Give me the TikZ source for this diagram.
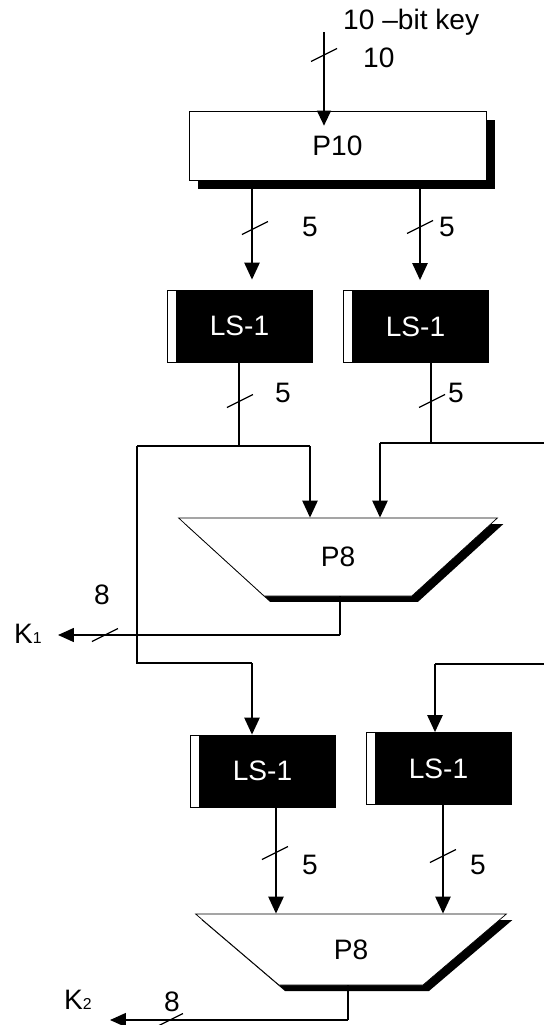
\documentclass[tikz,border=0pt]{standalone}
\usepackage{fontspec}
\setmainfont{Liberation Sans}
\usetikzlibrary{arrows.meta,shapes.geometric,shadows}

\newcommand{\ksub}[1]{{\fontsize{9}{9}\selectfont #1}}

\begin{document}
\begin{tikzpicture}[x=0.02cm,y=-0.02cm,font=\fontsize{16}{18}\selectfont,
  sig/.style={line width=1.4pt,-{Triangle[width=0.3cm,length=0.34cm]}},
  feed/.style={line width=0.7pt,-{Triangle[width=0.28cm,length=0.3cm]}},
  outarrow/.style={line width=0.9pt,-{Triangle[width=0.28cm,length=0.32cm]}},
  wire/.style={line width=0.9pt},
  bus/.style={line width=0.7pt},
  pbox/.style={draw,fill=white,inner sep=0pt,minimum width=5.94cm,minimum height=1.38cm,
    drop shadow={shadow xshift=0.18cm,shadow yshift=-0.18cm,fill=black,opacity=1}},
  lsbox/.style={draw,fill=black,text=white,inner sep=0pt,minimum width=2.9cm,minimum height=1.44cm,
    path picture={\fill[white] (path picture bounding box.north west) rectangle ([xshift=0.18cm]path picture bounding box.south west);}},
  perm/.style={trapezium,draw,fill=white,shape border rotate=180,trapezium left angle=45,
    trapezium right angle=45,trapezium stretches=true,inner sep=0pt,
    drop shadow={shadow xshift=0.12cm,shadow yshift=-0.12cm,fill=black,opacity=1}}]
  \useasboundingbox (0,0) rectangle (544,1025);

  % boxes
  \node[pbox] (P10) at (337.5,145.5) {P10};
  \node[lsbox] (LSa) at (239.5,326) {LS-1};
  \node[lsbox] (LSb) at (415.5,326.5) {LS-1};
  \node[perm,minimum width=6.4cm,minimum height=1.56cm] (P8a) at (338,557) {P8};
  \node[lsbox] (LSc) at (262.5,771) {LS-1};
  \node[lsbox] (LSd) at (438.5,768.5) {LS-1};
  \node[perm,minimum width=6.24cm,minimum height=1.42cm] (P8b) at (351,949.5) {P8};

  % labels
  \node[anchor=west] (keylbl) at (337,22) {10 –bit key};
  \node[anchor=west] (ten) at (357,58) {10};
  \foreach \n/\x/\y in {a/310/227, b/447/227, c/283/393, d/456/393, e/310/865, f/478/865}
    \node (five\n) at (\x,\y) {5};
  \node (eighta) at (102,595) {8};
  \node (eightb) at (172,1002) {8};
  \node[anchor=east] (K1) at (48,634) {K\ksub{1}};
  \node[anchor=east] (K2) at (98,1000) {K\ksub{2}};

  % wiring points
  \coordinate (keyin) at (324,32);
  \coordinate (c1) at (252,0);
  \coordinate (c2) at (420,0);
  \coordinate (ja) at (239,446);
  \coordinate (jb) at (431,443);
  \coordinate (la) at (137,446);
  \coordinate (ra) at (310,446);
  \coordinate (rc) at (380,443);
  \coordinate (lb) at (137,663);
  \coordinate (rb) at (252,663);
  \coordinate (rd) at (435,664);
  \coordinate (ko) at (340,635);
  \coordinate (c3) at (276,0);
  \coordinate (c4) at (443,0);
  \coordinate (kt) at (348,1020);
  \coordinate (k2tip) at (110,1020);

  % P10 and first shift
  \draw[feed,shorten >=-0.3cm] (keyin) -- (keyin |- P10.north);
  \draw[sig,shorten >=0.2cm] (c1 |- P10.south) -- (c1 |- LSa.north);
  \draw[sig,shorten >=0.2cm] (c2 |- P10.south) -- (c2 |- LSb.north);

  % to P8 and second shift
  \draw[wire] (ja |- LSa.south) -- (ja);
  \draw[wire] (jb |- LSb.south) -- (jb);
  \draw[wire] (la) -- (ra);
  \draw[sig] (ra) -- (ra |- P8a.north);
  \draw[wire] (rc) -- (544,443);
  \draw[sig] (rc) -- (rc |- P8a.north);
  \draw[wire] (la) -- (lb) -- (rb);
  \draw[sig] (rb) -- (rb |- LSc.north);
  \draw[wire] (rd) -- (544,664);
  \draw[sig] (rd) -- (rd |- LSd.north);

  % K1 out
  \draw[wire] (ko |- P8a.south) -- (ko);
  \draw[outarrow,shorten >=0.2cm] (ko) -- (ko -| K1.east);

  % second P8 and K2 out
  \draw[sig] (c3 |- LSc.south) -- (c3 |- P8b.north);
  \draw[sig] (c4 |- LSd.south) -- (c4 |- P8b.north);
  \draw[wire] (kt |- P8b.south) -- (kt);
  \draw[outarrow] (kt) -- (k2tip);

  % bus width marks
  \foreach \x/\y in {324/55, 255/228, 420/227, 240/401, 432/401, 105/635, 275/853, 443/856, 170/1020}
    \draw[bus] (\x,\y) ++(-13,6.5) -- ++(26,-13);
\end{tikzpicture}
\end{document}
